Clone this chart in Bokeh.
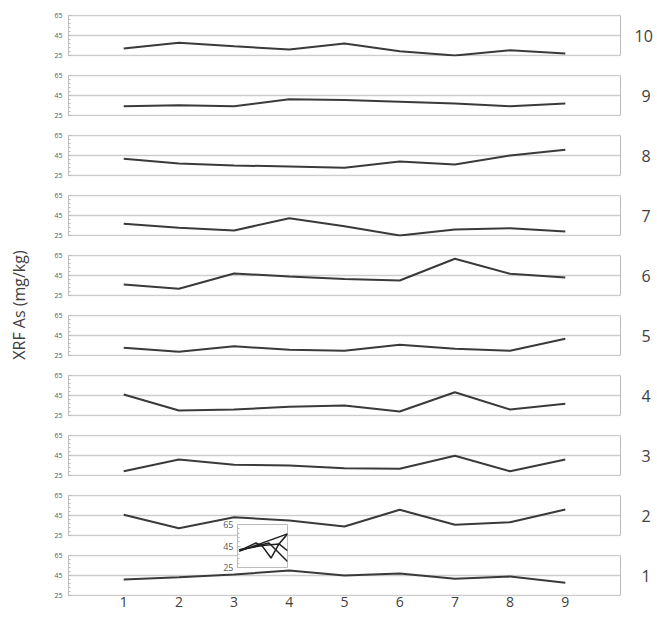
import numpy as np
from bokeh.plotting import figure
from bokeh.models import FixedTicker, LinearAxis, Title, Range1d
from bokeh.layouts import column, row
from bokeh.embed import file_html
from bokeh.resources import INLINE

# ---------------- data ----------------
positions = [1, 2, 3, 4, 5, 6, 7, 8, 9]
panel_names = ["10", "9", "8", "7", "6", "5", "4", "3", "2", "1"]
s10 = [32.0, 37.7, 34.3, 31.0, 37.0, 29.3, 25.0, 30.3, 27.0]
s9 = [34.3, 35.3, 34.3, 41.3, 40.5, 38.7, 37.0, 34.3, 37.0]
s8 = [41.7, 37.0, 35.0, 34.0, 32.7, 39.0, 36.0, 45.0, 50.7]
s7 = [36.7, 32.7, 30.0, 42.3, 34.3, 25.0, 31.0, 32.3, 29.0]
s6 = [36.0, 31.7, 47.0, 44.0, 41.5, 40.0, 61.7, 46.7, 43.0]
s5 = [32.7, 28.7, 34.3, 30.7, 29.7, 35.7, 31.7, 29.7, 41.7]
s4 = [46.0, 30.0, 31.0, 33.7, 35.0, 29.0, 48.3, 31.0, 36.7]
s3 = [29.3, 41.0, 35.7, 35.0, 32.3, 31.7, 44.7, 29.3, 41.0]
s2 = [45.7, 32.3, 43.3, 40.0, 34.0, 50.7, 35.7, 38.3, 51.0]
s1 = [41.0, 43.3, 46.0, 50.0, 45.0, 47.0, 41.7, 44.0, 37.7]
series = [s10, s9, s8, s7, s6, s5, s4, s3, s2, s1]
y_ticks = [25, 45, 65]
y_label = "XRF As (mg/kg)"

# small stray inset chart (lines)
inset_x1 = [0.3, 10.0]
inset_y1 = [40.0, 56.3]
inset_x2 = [0.3, 3.7, 5.0, 6.7, 8.3, 10.0]
inset_y2 = [40.5, 47.8, 44.7, 33.8, 46.9, 56.3]
inset_x3 = [0.3, 6.3, 10.0]
inset_y3 = [41.0, 47.8, 30.6]
inset_x4 = [0.3, 5.0, 8.3, 10.0]
inset_y4 = [41.5, 45.5, 46.9, 40.6]
inset_lines = [(inset_x1, inset_y1), (inset_x2, inset_y2), (inset_x3, inset_y3), (inset_x4, inset_y4)]

# ---------------- style ----------------
FONT = "Open Sans"
GRID = "#cdcdcd"
AXIS = "#bcbcbc"
LINE = "#3a3a3a"
TEXT = "#404040"
TICK_TEXT = "#595959"

STRIP_W = 36
LEFT = 68 - STRIP_W
minor = list(np.arange(25, 66, 4))

panels = []
n = len(series)
for i, (name, vals) in enumerate(zip(panel_names, series)):
    first = i == 0
    last = i == n - 1
    p = figure(frame_width=552, frame_height=42,
               x_range=Range1d(0, 10), y_range=Range1d(24, 66),
               x_axis_location="below" if last else None,
               y_axis_location="left",
               toolbar_location=None, output_backend="svg",
               min_border_left=LEFT, min_border_right=37,
               min_border_top=14 if first else 9,
               min_border_bottom=19 if last else 9)
    p.outline_line_color = None
    p.background_fill_color = "white"
    p.xgrid.grid_line_color = None
    p.ygrid.grid_line_color = GRID
    p.ygrid.grid_line_width = 1.3

    yax = p.yaxis[0]
    yax.ticker = FixedTicker(ticks=y_ticks, minor_ticks=minor)
    yax.bounds = (25, 65)
    yax.axis_line_color = AXIS
    yax.major_tick_line_color = AXIS
    yax.minor_tick_line_color = AXIS
    yax.major_tick_in = 3
    yax.major_tick_out = 0
    yax.minor_tick_in = 2
    yax.minor_tick_out = 0
    yax.major_label_standoff = 6
    yax.major_label_text_font = FONT
    yax.major_label_text_font_size = "7px"
    yax.major_label_text_color = TICK_TEXT

    # right border of the panel, carrying the panel number
    standoff = 8 if len(name) > 1 else 15
    rax = LinearAxis(ticker=FixedTicker(ticks=[45]), bounds=(25, 65),
                     axis_line_color=AXIS, major_tick_line_color=None,
                     minor_tick_line_color=None,
                     major_label_overrides={45: name},
                     major_label_standoff=standoff,
                     major_label_text_font=FONT,
                     major_label_text_font_size="16px",
                     major_label_text_color=TEXT)
    p.add_layout(rax, "right")

    if last:
        xax = p.xaxis[0]
        xax.ticker = FixedTicker(ticks=positions)
        xax.axis_line_color = None
        xax.major_tick_line_color = None
        xax.minor_tick_line_color = None
        xax.major_tick_in = 0
        xax.major_tick_out = 0
        xax.major_label_standoff = 0
        xax.major_label_text_font = FONT
        xax.major_label_text_font_size = "14px"
        xax.major_label_text_color = TEXT

    p.line(positions, vals, line_color=LINE, line_width=2)
    panels.append(p)

# y-axis label strip
strip = figure(width=STRIP_W, height=610, toolbar_location=None, output_backend="svg",
               x_axis_location=None, y_axis_location=None,
               min_border_left=0, min_border_right=0, min_border_top=0, min_border_bottom=8)
strip.outline_line_color = None
strip.xgrid.grid_line_color = None
strip.ygrid.grid_line_color = None
strip.add_layout(Title(text=y_label, align="center", text_font=FONT,
                       text_font_size="16px", text_font_style="normal",
                       text_color=TEXT, offset=4), "left")

# inset
inset = figure(frame_width=50, frame_height=43,
               x_range=Range1d(0, 10), y_range=Range1d(25, 65),
               x_axis_location=None, y_axis_location="left",
               toolbar_location=None, output_backend="svg",
               min_border_left=30, min_border_right=2, min_border_top=7, min_border_bottom=7)
inset.background_fill_color = "white"
inset.border_fill_color = None
inset.outline_line_color = AXIS
inset.xgrid.grid_line_color = None
inset.ygrid.grid_line_color = None
iax = inset.yaxis[0]
iax.ticker = FixedTicker(ticks=y_ticks, minor_ticks=minor)
iax.axis_line_color = AXIS
iax.major_tick_line_color = AXIS
iax.minor_tick_line_color = AXIS
iax.major_tick_in = 3
iax.major_tick_out = 0
iax.minor_tick_in = 2
iax.minor_tick_out = 0
iax.major_label_standoff = 4
iax.major_label_text_font = FONT
iax.major_label_text_font_size = "9px"
iax.major_label_text_color = TICK_TEXT
for xs, ys in inset_lines:
    inset.line(xs, ys, line_color="#202020", line_width=1.5)
inset.styles = {"position": "absolute", "left": "207px", "top": "517px", "z-index": "5"}

layout = row(strip, column(*panels), inset)

open("out.html", "w").write(file_html(layout, INLINE))
